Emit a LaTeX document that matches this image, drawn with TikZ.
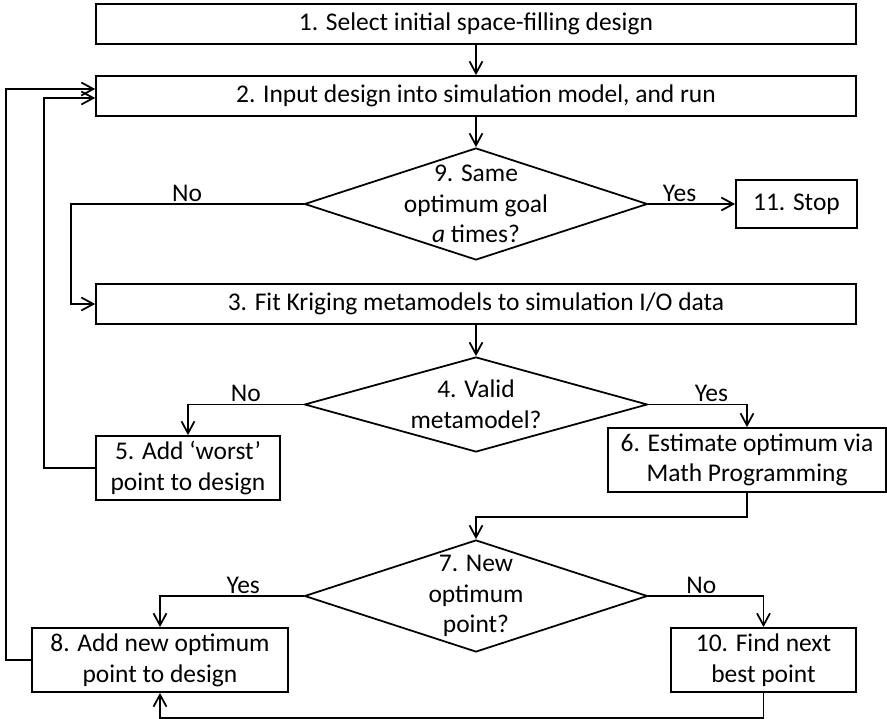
\documentclass[tikz,border=0pt]{standalone}
\usepackage{fontspec}
\setmainfont{Carlito}
\usetikzlibrary{shapes.geometric,arrows.meta}

\begin{document}
\begin{tikzpicture}[x=0.02cm, y=-0.02cm, line width=1pt,
	font=\fontsize{14.5pt}{17.5pt}\selectfont,
	box/.style={draw, rectangle, align=center, inner sep=0pt},
	decision/.style={draw, diamond, inner sep=0pt, minimum width=6.86cm},
	flow/.style={-{Straight Barb[length=2.4mm, width=2.6mm]}},
	answer/.style={above, inner sep=1pt}]
	\useasboundingbox (0,0) rectangle (887,719);
	
	\node[box, minimum width=15.2cm, minimum height=0.8cm] (select) at (476,24) {1. Select initial space-filling design};
	\node[box, minimum width=15.2cm, minimum height=0.8cm] (input) at (476,96) {2. Input design into simulation model, and run};
	\node[decision, minimum height=2.24cm] (same) at (476,204) {};
	\node[align=center] at (same) {9. Same\\optimum goal\\\textit{a} times?};
	\node[box, minimum width=2.42cm, minimum height=0.96cm] (stop) at (796.5,204) {11. Stop};
	\node[box, minimum width=15.2cm, minimum height=0.8cm] (fit) at (476,304) {3. Fit Kriging metamodels to simulation I/O data};
	\node[decision, minimum height=1.9cm] (valid) at (476,404.5) {};
	\node[align=center] at (valid) {4. Valid\\metamodel?};
	\node[box, minimum width=3.68cm, minimum height=1.28cm] (worst) at (188,468) {5. Add `worst'\\point to design};
	\node[box, minimum width=5.56cm, minimum height=1.28cm] (estimate) at (747,460) {6. Estimate optimum via\\Math Programming};
	\node[decision, minimum height=2.24cm] (newopt) at (476,596) {};
	\node[align=center] at (newopt) {7. New\\optimum\\point?};
	\node[box, minimum width=5.12cm, minimum height=1.28cm] (addopt) at (160,660) {8. Add new optimum\\point to design};
	\node[box, minimum width=3.7cm, minimum height=1.28cm] (nextbest) at (763.5,660) {10. Find next\\best point};
	
	\draw[flow] (select) -- (input);
	\draw[flow] (input) -- (same);
	\draw[flow] (same.east) -- node[answer, pos=0.36]{Yes} (stop.west);
	\draw[flow] (same.west) -- node[answer]{No} +(-233,0) |- (fit.west);
	\draw[flow] (fit) -- (valid);
	\draw[flow] (valid.west) -| node[answer, pos=0.25]{No} (worst.north);
	\draw[flow] (valid.east) -| node[answer, pos=0.32]{Yes} (estimate.north);
	\draw[flow] (estimate.south) -- +(0,24) -| (newopt.north);
	\draw[flow] (newopt.west) -| node[answer, pos=0.21]{Yes} (addopt.north);
	\draw[flow] (newopt.east) -| node[answer, pos=0.23]{No} (nextbest.north);
	\draw[flow] (nextbest.south) -- +(0,25) -| (addopt.south);
	\draw[flow] (worst.west) -- +(-51,0) |- ([yshift=-0.04cm]input.west);
	\draw[flow] (addopt.west) -- +(-25,0) |- ([yshift=0.14cm]input.west);
\end{tikzpicture}
\end{document}
